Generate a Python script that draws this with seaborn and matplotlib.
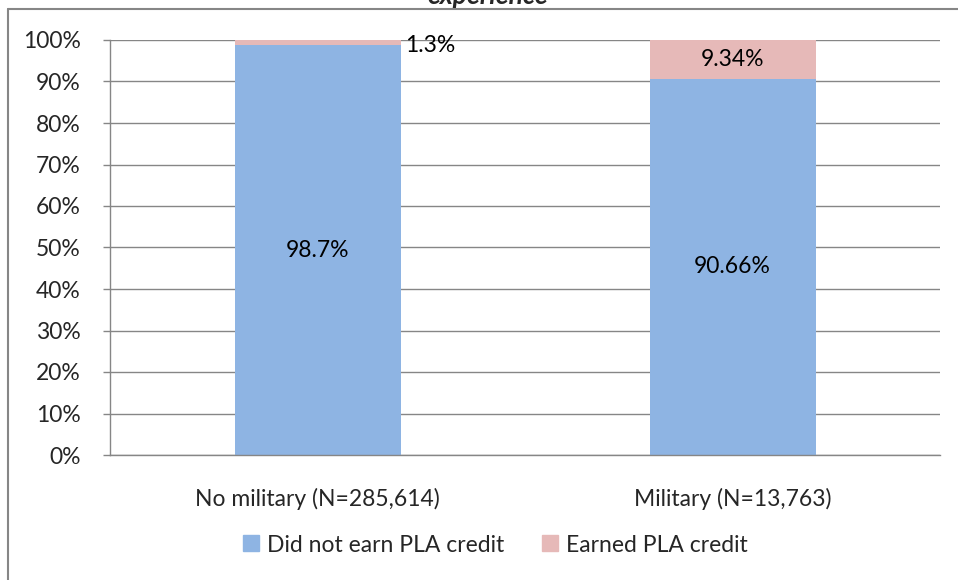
import numpy as np
import pandas as pd
import matplotlib.pyplot as plt
import matplotlib.lines as mlines
import seaborn as sns

groups = ["No military (N=285,614)", "Military (N=13,763)"]
not_earned = [98.7, 90.66]
earned = [1.3, 9.34]
not_earned_labels = ["98.7%", "90.66%"]
earned_labels = ["1.3%", "9.34%"]
yticks = [0, 10, 20, 30, 40, 50, 60, 70, 80, 90, 100]

blue = "#8EB4E3"
pink = "#E6B9B8"
grey = "#868686"
fs = 16.5

sns.set_theme(style="white")
plt.rcParams["font.family"] = ["Lato", "DejaVu Sans"]

df = pd.DataFrame({"group": groups, "not_earned": not_earned, "earned": earned})
df["total"] = df["not_earned"] + df["earned"]

fig = plt.figure(figsize=(9.58, 5.80), dpi=100)
ax = fig.add_axes([110 / 958, 1 - 455 / 580, 830 / 958, 415 / 580])

sns.barplot(data=df, x="group", y="total", color=pink, width=0.4,
            saturation=1, ax=ax, linewidth=0)
sns.barplot(data=df, x="group", y="not_earned", color=blue, width=0.4,
            saturation=1, ax=ax, linewidth=0)

ax.set_xlim(-0.5, 1.5)
ax.set_ylim(0, 100)
ax.set_yticks(yticks)
ax.set_yticklabels([f"{v}%" for v in yticks], fontsize=fs)
ax.set_xlabel("")
ax.set_ylabel("")
ax.tick_params(axis="x", length=0, labelsize=fs, pad=24)
ax.set_xticks([-0.5, 0.5, 1.5], minor=True)
ax.tick_params(axis="x", which="minor", length=8, color=grey, width=1)
ax.tick_params(axis="y", length=5, color=grey, width=1, left=True, pad=16)
ax.set_axisbelow(True)
ax.yaxis.grid(True, color=grey, linewidth=1)
for s in ["top", "right"]:
    ax.spines[s].set_visible(False)
for s in ["left", "bottom"]:
    ax.spines[s].set_color(grey)
    ax.spines[s].set_linewidth(1)

for i in range(len(groups)):
    ax.text(i, not_earned[i] / 2, not_earned_labels[i], ha="center",
            va="center", fontsize=fs, color="black")
ax.text(0.21, 98.6, earned_labels[0], ha="left", va="center",
        fontsize=fs, color="black")
ax.text(1, not_earned[1] + earned[1] / 2, earned_labels[1], ha="center",
        va="center", fontsize=fs, color="black")

handles = [
    mlines.Line2D([], [], marker="s", linestyle="none", markersize=12,
                  markerfacecolor=blue, markeredgecolor=blue,
                  label="Did not earn PLA credit"),
    mlines.Line2D([], [], marker="s", linestyle="none", markersize=12,
                  markerfacecolor=pink, markeredgecolor=pink,
                  label="Earned PLA credit"),
]
fig.legend(handles=handles, loc="center", bbox_to_anchor=(0.515, 1 - 545 / 580),
           ncol=2, frameon=False, fontsize=fs, handletextpad=0.2,
           columnspacing=1.5, handlelength=1.0)

# outer chart border (only left and top edges fall inside the image)
fig.add_artist(mlines.Line2D([8 / 958, 8 / 958], [0, 1 - 9 / 580],
                             color=grey, linewidth=1.5, transform=fig.transFigure))
fig.add_artist(mlines.Line2D([8 / 958, 1], [1 - 9 / 580, 1 - 9 / 580],
                             color=grey, linewidth=1.5, transform=fig.transFigure))

# title mostly cut off at the top edge, as in the source
fig.text(488 / 958, 1 - 4 / 580, "experience", ha="center", va="baseline",
         fontsize=19, fontweight="bold", fontstyle="italic")

fig.savefig("out.png", dpi=100)
